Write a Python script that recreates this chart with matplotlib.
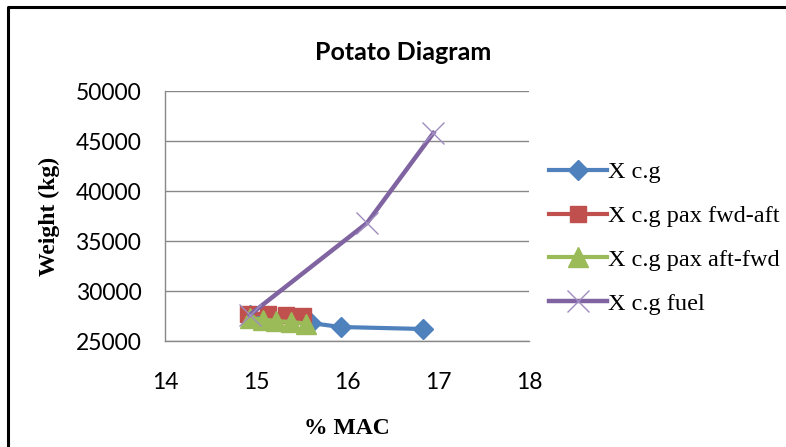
import matplotlib
matplotlib.use("Agg")
import matplotlib.pyplot as plt
from matplotlib.lines import Line2D

# Data (% MAC vs weight in kg)
xcg_x = [14.93, 15.60, 15.93, 16.84]
xcg_y = [27600, 26800, 26400, 26200]

fwd_aft_x = [14.91, 15.13, 15.33, 15.52]
fwd_aft_y = [27750, 27700, 27600, 27500]

aft_fwd_x = [14.93, 15.08, 15.22, 15.38, 15.55]
aft_fwd_y = [27300, 27150, 27000, 26900, 26750]

fuel_x = [14.93, 16.22, 16.95]
fuel_y = [27600, 36800, 45800]

x_ticks = [14, 15, 16, 17, 18]
y_ticks = [25000, 30000, 35000, 40000, 45000, 50000]

W, H = 786, 447
fig = plt.figure(figsize=(W / 100, H / 100), dpi=100)
ax = fig.add_axes([165 / W, 1 - 341 / H, (529 - 165) / W, (341 - 91) / H])

ax.plot(xcg_x, xcg_y, color="#4F81BD", lw=3, marker="D", ms=10,
        label="X c.g", zorder=3)
ax.plot(fwd_aft_x, fwd_aft_y, color="#C0504D", lw=3, marker="s", ms=12,
        label="X c.g pax fwd-aft", zorder=4)
ax.plot(aft_fwd_x, aft_fwd_y, color="#9BBB59", lw=3, marker="^", ms=14,
        label="X c.g pax aft-fwd", zorder=5)
ax.plot(fuel_x, fuel_y, color="#8064A2", lw=3.2, marker="x", ms=16, mew=1,
        mec="#9F8CC0", label="X c.g fuel", zorder=6)

ax.set_xlim(14, 18)
ax.set_ylim(25000, 50000)
ax.set_xticks(x_ticks)
ax.set_yticks(y_ticks)
ax.grid(axis="y", color="#888888", lw=1)
ax.set_axisbelow(True)
for s in ["top", "right"]:
    ax.spines[s].set_visible(False)
for s in ["left", "bottom"]:
    ax.spines[s].set_color("#888888")
    ax.spines[s].set_linewidth(1)
ax.tick_params(axis="y", length=0, pad=17)
ax.tick_params(axis="x", length=0, pad=22)
for lab in ax.get_xticklabels() + ax.get_yticklabels():
    lab.set_fontfamily("Lato")
    lab.set_fontsize(16.5)

ax.set_title("Potato Diagram", fontfamily="Lato", fontweight="bold",
             fontsize=18, x=(403 - 165) / (529 - 165), pad=22)
ax.set_xlabel("% MAC", fontfamily="Liberation Serif", fontweight="bold",
              fontsize=17, labelpad=18)
ax.set_ylabel("Weight (kg)", fontfamily="Liberation Serif", fontweight="bold",
              fontsize=17, labelpad=11)

ax.legend(loc="center left", bbox_to_anchor=(537 / W, 1 - 238 / H),
          bbox_transform=fig.transFigure, frameon=False, borderpad=0,
          handlelength=2.4, handletextpad=0.02, labelspacing=0.9,
          prop={"family": "Liberation Serif", "size": 17.5})

# outer chart frame (left and top edges visible in the crop)
fig.add_artist(Line2D([8 / W, 8 / W, 1], [0, 1 - 7 / H, 1 - 7 / H],
                      transform=fig.transFigure, color="black", lw=2.2))

fig.savefig("out.png", dpi=100)
